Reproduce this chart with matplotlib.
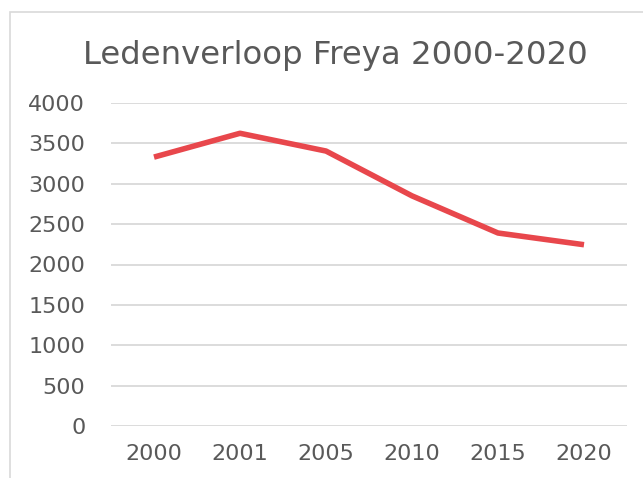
import matplotlib.pyplot as plt
from matplotlib.patches import Rectangle

# ledenaantallen Freya
jaren = ['2000', '2001', '2005', '2010', '2015', '2020']
leden = [3330, 3625, 3405, 2850, 2390, 2245]
y_ticks = [0, 500, 1000, 1500, 2000, 2500, 3000, 3500, 4000]

grijs = '#595959'
rood = '#E8474C'

fig = plt.figure(figsize=(6.43, 4.78), dpi=100)
# kader van de grafiek (zoals in Excel)
fig.patches.append(Rectangle((10 / 643, -0.01), 0.99, 1 - 12 / 478 + 0.01,
                             transform=fig.transFigure, fill=False,
                             edgecolor='#D9D9D9', linewidth=1.2))

ax = fig.add_axes([111 / 643, 1 - 426 / 478, 516 / 643, 323 / 478])
x = range(len(jaren))
ax.plot(x, leden, color=rood, linewidth=4, solid_capstyle='butt', zorder=3)

ax.set_xlim(-0.5, len(jaren) - 0.5)
ax.set_ylim(0, 4000)
ax.set_xticks(list(x))
ax.set_xticklabels(jaren)
ax.set_yticks(y_ticks)
ax.set_yticklabels([str(v) for v in y_ticks])
ax.tick_params(axis='both', length=0, labelsize=16, colors=grijs)
ax.tick_params(axis='y', pad=18.5)
ax.tick_params(axis='x', pad=13)
ax.grid(axis='y', color='#D9D9D9', linewidth=1.3)
ax.set_axisbelow(True)
for s in ax.spines.values():
    s.set_visible(False)

fig.text(83 / 643, 1 - 64 / 478, 'Ledenverloop Freya 2000-2020', ha='left',
         va='baseline', fontsize=23.3, color=grijs)

fig.savefig('out.png', dpi=100)
